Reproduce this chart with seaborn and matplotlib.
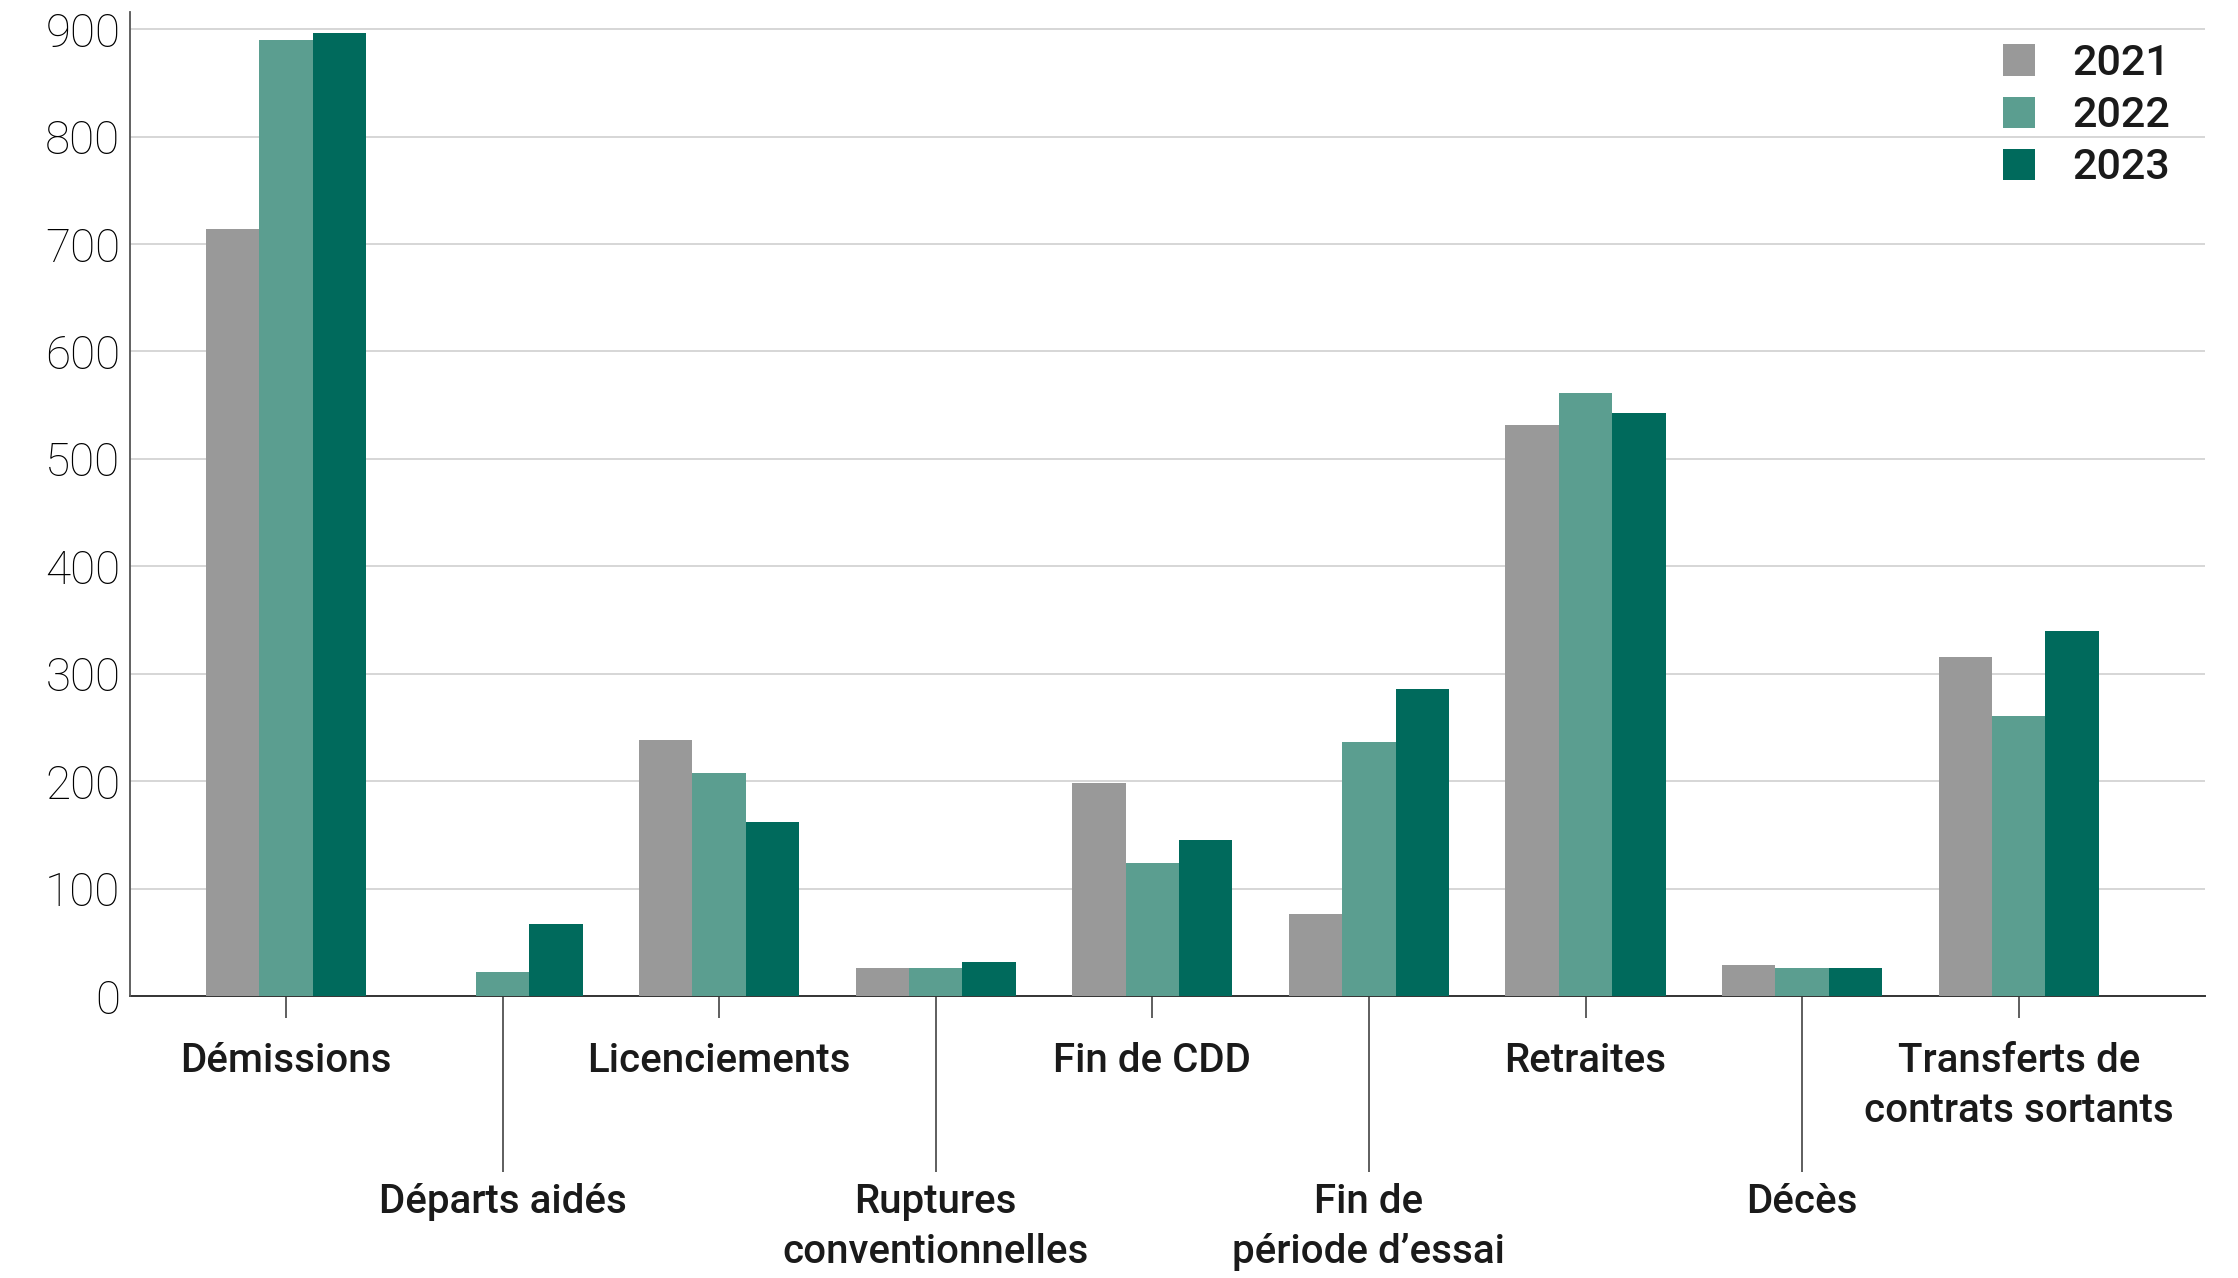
import numpy as np
import pandas as pd
import seaborn as sns
import matplotlib
matplotlib.use("Agg")
import matplotlib.pyplot as plt
from matplotlib.patches import Patch

# Departure reasons (tick labels) and yearly counts
categories = [
    "Démissions",
    "Départs aidés",
    "Licenciements",
    "Ruptures\nconventionnelles",
    "Fin de CDD",
    "Fin de\npériode d’essai",
    "Retraites",
    "Décès",
    "Transferts de\ncontrats sortants",
]
years = ["2021", "2022", "2023"]
values_2021 = [714, 0, 238, 26, 198, 76, 532, 29, 316]
values_2022 = [890, 22, 208, 26, 124, 236, 561, 26, 261]
values_2023 = [896, 67, 162, 32, 145, 286, 543, 26, 340]
y_ticks = [0, 100, 200, 300, 400, 500, 600, 700, 800, 900]

colors = ["#999999", "#5b9e90", "#006a5c"]

sns.set_style("white")
label_family = ["Roboto", "DejaVu Sans"]
plt.rcParams["font.family"] = label_family

df = pd.DataFrame({
    "categorie": categories * 3,
    "annee": [y for y in years for _ in categories],
    "valeur": values_2021 + values_2022 + values_2023,
})

W, H = 2238, 1278
fig = plt.figure(figsize=(W / 100, H / 100), dpi=100)
ax = fig.add_axes([130 / W, (H - 996) / H, (2205 - 130) / W, (996 - 12) / H])

sns.barplot(
    data=df, x="categorie", y="valeur", hue="annee",
    order=categories, hue_order=years, palette=colors,
    width=0.74, gap=0, saturation=1, errorbar=None,
    legend=False, ax=ax, linewidth=0, zorder=3,
)

ax.set_xlim(-0.72, 8.86)
ax.set_ylim(0, 916)
ax.set_xlabel("")
ax.set_ylabel("")

# Horizontal grid
ax.set_yticks(y_ticks)
ax.set_yticklabels([str(v) for v in y_ticks])
ax.yaxis.grid(True, color="#cccccc", linewidth=1.1)
ax.xaxis.grid(False)
ax.set_axisbelow(True)
ax.tick_params(axis="y", left=False, length=0, pad=7, labelsize=33, labelcolor="#000000")
for lab in ax.get_yticklabels():
    lab.set_fontweight("light")

# Alternating category labels: even ones close to the axis, odd ones lower
even_idx = list(range(0, len(categories), 2))
odd_idx = list(range(1, len(categories), 2))
ax.set_xticks(even_idx, labels=[categories[i] for i in even_idx])
ax.set_xticks(odd_idx, labels=[categories[i] for i in odd_idx], minor=True)
ax.tick_params(axis="x", which="major", bottom=True, length=15.8, width=1.1,
               color="#333333", pad=17, labelsize=29, labelcolor="#1a1a1a")
ax.tick_params(axis="x", which="minor", bottom=True, length=127, width=1.1,
               color="#333333", pad=7.5, labelsize=29, labelcolor="#1a1a1a")
for lab in ax.get_xticklabels(which="both"):
    lab.set_fontweight("medium")
    lab.set_linespacing(1.42)

for side in ["top", "right"]:
    ax.spines[side].set_visible(False)
ax.spines["left"].set_color("#555555")
ax.spines["left"].set_linewidth(1.3)
ax.spines["bottom"].set_color("#333333")
ax.spines["bottom"].set_linewidth(1.4)
ax.spines["bottom"].set_zorder(2)

handles = [Patch(facecolor=c, edgecolor="none") for c in colors]
ax.legend(
    handles, years, loc="upper left",
    bbox_to_anchor=(2003 / W, 1 - 43 / H), bbox_transform=fig.transFigure,
    frameon=False, borderpad=0, borderaxespad=0,
    handlelength=0.74, handleheight=0.74, handletextpad=0.88,
    labelspacing=0.26, prop={"size": 31, "weight": "medium"},
    labelcolor="#1a1a1a",
)

fig.savefig("out.png", dpi=100)
